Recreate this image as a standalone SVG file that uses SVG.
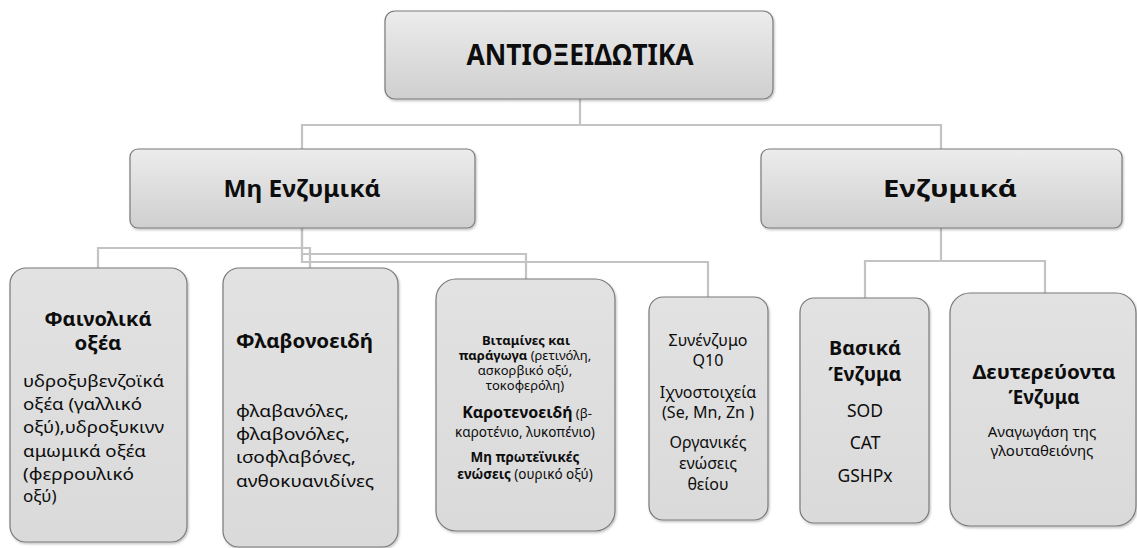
<svg xmlns="http://www.w3.org/2000/svg" width="1137" height="548" viewBox="0 0 1137 548">
<defs>
<linearGradient id="gHead" x1="0" y1="0" x2="0" y2="1">
<stop offset="0" stop-color="#ececec"/>
<stop offset="1" stop-color="#cfcfcf"/>
</linearGradient>
<linearGradient id="gLeaf" x1="0" y1="0" x2="0" y2="1">
<stop offset="0" stop-color="#e2e2e2"/>
<stop offset="1" stop-color="#dadada"/>
</linearGradient>
<filter id="sh" x="-5%" y="-5%" width="110%" height="110%">
<feDropShadow dx="1" dy="1.5" stdDeviation="1" flood-color="#000" flood-opacity="0.25"/>
</filter>
</defs>
<style>
.head{fill:url(#gHead);stroke:#7a7a7a;stroke-width:1.2;filter:url(#sh)}
.leaf{fill:url(#gLeaf);stroke:#7a7a7a;stroke-width:1.2;filter:url(#sh)}
.conn{fill:none;stroke:#c3c3c3;stroke-width:2.2}
text{font-family:"Noto Sans","Open Sans","DejaVu Sans",sans-serif;fill:#0d0d0d}
.b{font-weight:bold}
.c{text-anchor:middle}
</style>
<rect width="1137" height="548" fill="#ffffff"/>
<g id="connectors">
<path class="conn" d="M580 99 V125 H302 V149"/>
<path class="conn" d="M580 125 H941 V149"/>
<path class="conn" d="M302 228 V248 H98 V268"/>
<path class="conn" d="M302 248 H310 V268"/>
<path class="conn" d="M302 228 V254 H526 V279"/>
<path class="conn" d="M302 254 V262 H708 V297"/>
<path class="conn" d="M941 228 V261 H865 V298"/>
<path class="conn" d="M941 261 H1045 V293"/>
</g>
<g id="node-root">
<rect class="head" x="385" y="11" width="388" height="88" rx="10"/>
<text class="b c" x="580" y="65" font-size="28" textLength="227" lengthAdjust="spacingAndGlyphs">ΑΝΤΙΟΞΕΙΔΩΤΙΚΑ</text>
</g>
<g id="node-mh-enzymika">
<rect class="head" x="130" y="149" width="345" height="79" rx="8"/>
<text class="b c" x="302" y="197" font-size="24" textLength="157" lengthAdjust="spacingAndGlyphs">Μη Ενζυμικά</text>
</g>
<g id="node-enzymika">
<rect class="head" x="761" y="149" width="361" height="79" rx="8"/>
<text class="b c" x="950" y="197" font-size="24" textLength="134" lengthAdjust="spacingAndGlyphs">Ενζυμικά</text>
</g>
<g id="node-fainolika">
<rect class="leaf" x="10" y="268" width="177" height="274" rx="16"/>
<text class="b c" x="98" y="326" font-size="19.5" textLength="107" lengthAdjust="spacingAndGlyphs">Φαινολικά</text>
<text class="b c" x="98" y="350" font-size="19.5" textLength="47" lengthAdjust="spacingAndGlyphs">οξέα</text>
<text x="23" y="387" font-size="17" textLength="141" lengthAdjust="spacingAndGlyphs">υδροξυβενζοϊκά</text>
<text x="23" y="410" font-size="17" textLength="119" lengthAdjust="spacingAndGlyphs">οξέα (γαλλικό</text>
<text x="23" y="433" font-size="17" textLength="141" lengthAdjust="spacingAndGlyphs">οξύ),υδροξυκινν</text>
<text x="23" y="457" font-size="17" textLength="123" lengthAdjust="spacingAndGlyphs">αμωμικά οξέα</text>
<text x="23" y="480" font-size="17" textLength="111" lengthAdjust="spacingAndGlyphs">(φερρουλικό</text>
<text x="23" y="502" font-size="17">οξύ)</text>
</g>
<g id="node-flavonoeidi">
<rect class="leaf" x="223" y="268" width="175" height="279" rx="16"/>
<text class="b" x="236" y="348" font-size="20" textLength="137" lengthAdjust="spacingAndGlyphs">Φλαβονοειδή</text>
<text x="236" y="417" font-size="17" textLength="113" lengthAdjust="spacingAndGlyphs">φλαβανόλες,</text>
<text x="236" y="440" font-size="17" textLength="114" lengthAdjust="spacingAndGlyphs">φλαβονόλες,</text>
<text x="236" y="463" font-size="17" textLength="120" lengthAdjust="spacingAndGlyphs">ισοφλαβόνες,</text>
<text x="236" y="487" font-size="17" textLength="138" lengthAdjust="spacingAndGlyphs">ανθοκυανιδίνες</text>
</g>
<g id="node-vitamines">
<rect class="leaf" x="436" y="279" width="179" height="252" rx="20"/>
<text class="b c" x="526" y="345" font-size="13">Βιταμίνες και</text>
<text class="c" x="525" y="360" font-size="13"><tspan class="b">παράγωγα</tspan> (ρετινόλη,</text>
<text class="c" x="525" y="375" font-size="13">ασκορβικό οξύ,</text>
<text class="c" x="525" y="390" font-size="13">τοκοφερόλη)</text>
<text class="c" x="527" y="418" font-size="13"><tspan class="b" font-size="16">Καροτενοειδή</tspan> (β-</text>
<text class="c" x="525" y="437" font-size="13.5">καροτένιο, λυκοπένιο)</text>
<text class="b c" x="525" y="462" font-size="13.5">Μη πρωτεϊνικές</text>
<text class="c" x="525" y="479" font-size="13.5"><tspan class="b">ενώσεις</tspan> (ουρικό οξύ)</text>
</g>
<g id="node-synenzymo">
<rect class="leaf" x="649" y="297" width="119" height="223" rx="14"/>
<text class="c" x="708" y="346" font-size="16">Συνένζυμο</text>
<text class="c" x="708" y="366" font-size="16">Q10</text>
<text class="c" x="708" y="398" font-size="16">Ιχνοστοιχεία</text>
<text class="c" x="708" y="418" font-size="16">(Se, Mn, Zn )</text>
<text class="c" x="708" y="448" font-size="16">Οργανικές</text>
<text class="c" x="708" y="469" font-size="16">ενώσεις</text>
<text class="c" x="708" y="490" font-size="16">θείου</text>
</g>
<g id="node-vasika">
<rect class="leaf" x="800" y="298" width="129" height="225" rx="14"/>
<text class="b c" x="865" y="355" font-size="20" textLength="72" lengthAdjust="spacingAndGlyphs">Βασικά</text>
<text class="b c" x="865" y="381" font-size="20" textLength="73" lengthAdjust="spacingAndGlyphs">Ένζυμα</text>
<text class="c" x="865" y="417" font-size="17.5">SOD</text>
<text class="c" x="865" y="449" font-size="17.5">CAT</text>
<text class="c" x="865" y="482" font-size="17.5">GSHPx</text>
</g>
<g id="node-deutereuonta">
<rect class="leaf" x="950" y="293" width="186" height="233" rx="20"/>
<text class="b c" x="1044" y="379" font-size="20" textLength="143" lengthAdjust="spacingAndGlyphs">Δευτερεύοντα</text>
<text class="b c" x="1044" y="404" font-size="20" textLength="71" lengthAdjust="spacingAndGlyphs">Ένζυμα</text>
<text class="c" x="1042" y="437" font-size="15">Αναγωγάση της</text>
<text class="c" x="1042" y="456" font-size="15">γλουταθειόνης</text>
</g>
</svg>
